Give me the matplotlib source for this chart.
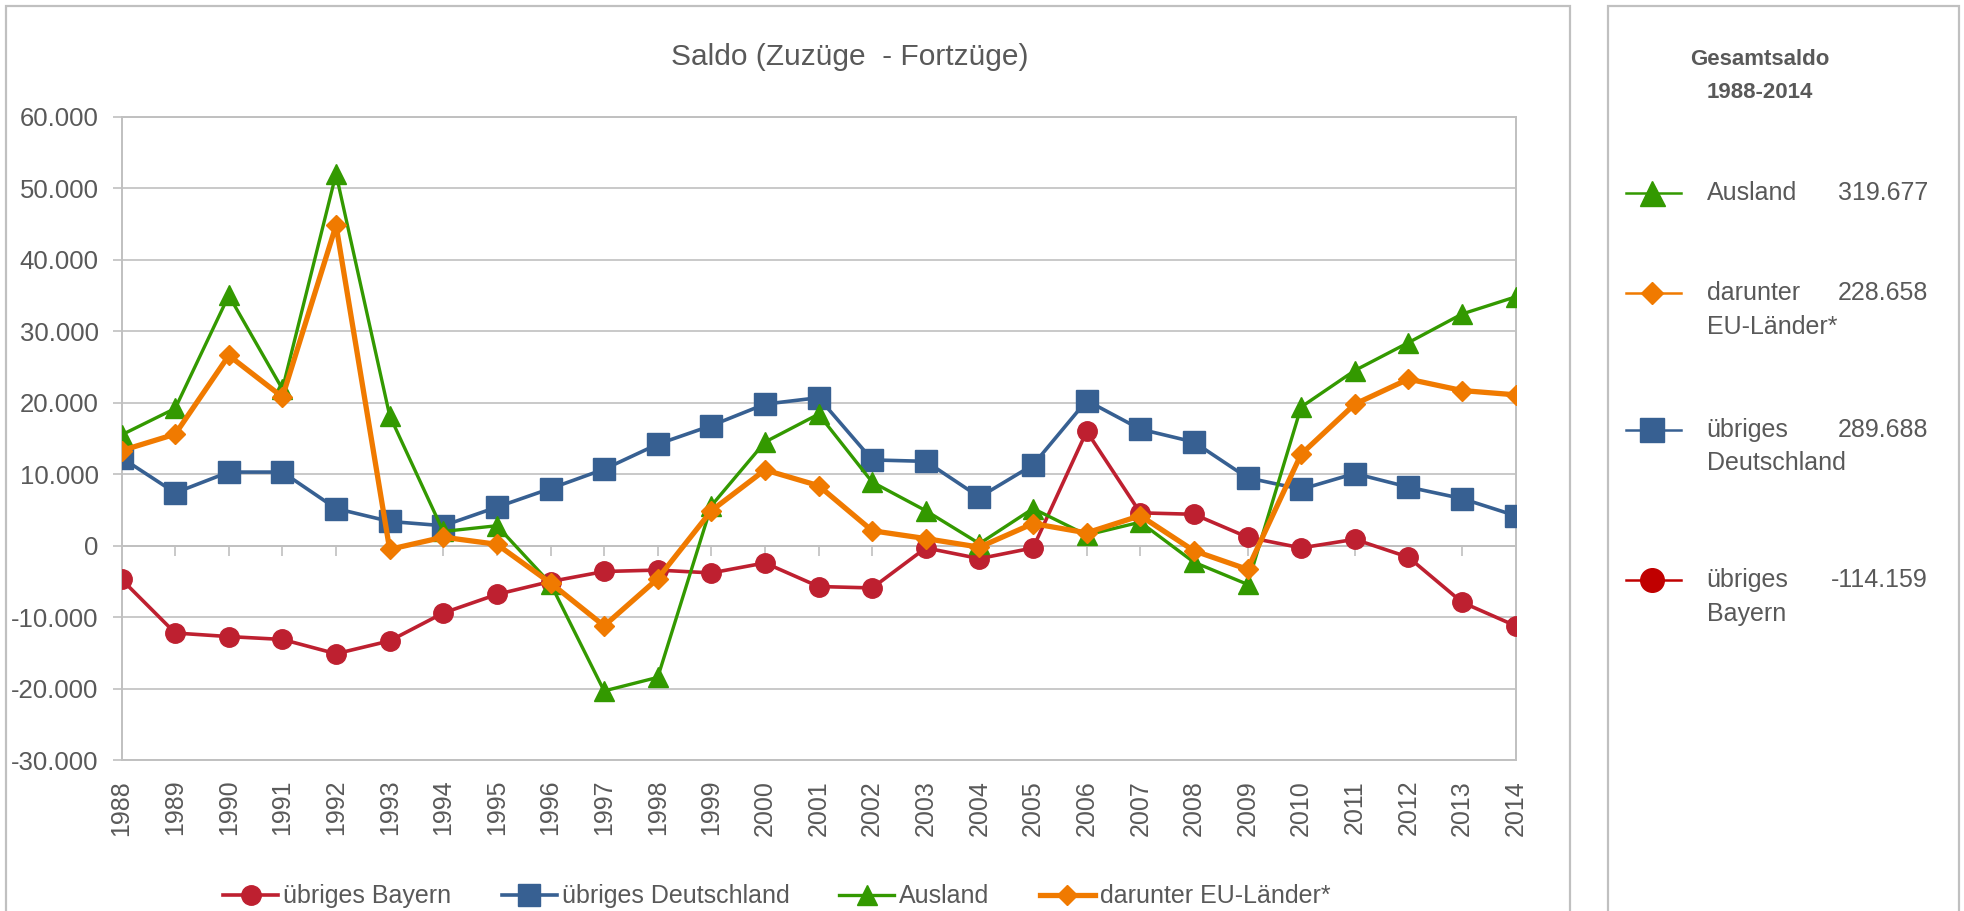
import numpy as np
import matplotlib
matplotlib.use("Agg")
import matplotlib.pyplot as plt
from matplotlib.lines import Line2D
from matplotlib.patches import Rectangle
from matplotlib.ticker import MultipleLocator, FuncFormatter

plt.rcParams["font.family"] = ["Liberation Sans", "DejaVu Sans"]

# Data
years = list(range(1988, 2015))
bayern = [-4700, -12200, -12700, -13100, -15100, -13300, -9400, -6800, -5000, -3600,
          -3400, -3800, -2400, -5700, -5900, -300, -1800, -300, 16000, 4600,
          4400, 1200, -300, 900, -1600, -7900, -11200]
deutschland = [12300, 7400, 10300, 10300, 5200, 3400, 2800, 5400, 8000, 10700,
               14200, 16800, 19800, 20700, 12000, 11800, 6800, 11300, 20300, 16300,
               14500, 9500, 7900, 10100, 8200, 6600, 4200]
ausland = [15500, 19200, 35000, 21900, 52000, 18200, 2000, 2800, -5300, -20300,
           -18400, 5600, 14500, 18400, 8900, 4900, 300, 5200, 1500, 3300,
           -2300, -5400, 19400, 24500, 28400, 32400, 34800]
eu = [13300, 15600, 26600, 20800, 44800, -500, 1200, 200, -5200, -11200,
      -4600, 4900, 10600, 8400, 2100, 1000, -200, 3100, 1800, 4200,
      -700, -3300, 12800, 19800, 23300, 21700, 21100]

# Totals for the side panel
totals_first = ["Ausland", "darunter", "übriges", "übriges"]
totals_second = ["", "EU-Länder*", "Deutschland", "Bayern"]
totals_values = ["319.677", "228.658", "289.688", "-114.159"]

c_red = "#BE2030"
c_blue = "#376092"
c_green = "#339900"
c_orange = "#F07A00"
grey_txt = "#595959"
grey_line = "#C0C0C0"

fig = plt.figure(figsize=(19.64, 9.11), dpi=100)
ax = fig.add_axes([0.0619, 0.1654, 0.7098, 0.7066])

ax.plot(years, bayern, color=c_red, lw=2.6, marker="o", ms=14, label="übriges Bayern", zorder=3)
ax.plot(years, deutschland, color=c_blue, lw=2.6, marker="s", ms=16, label="übriges Deutschland", zorder=3)
ax.plot(years, ausland, color=c_green, lw=2.4, marker="^", ms=15, label="Ausland", zorder=4)
ax.plot(years, eu, color=c_orange, lw=3.8, marker="D", ms=10.5, label="darunter EU-Länder*", zorder=5)

ax.set_xlim(years[0], years[-1])
ax.set_ylim(-30000, 60000)
ax.yaxis.set_major_locator(MultipleLocator(10000))
ax.yaxis.set_major_formatter(FuncFormatter(lambda v, p: f"{v:,.0f}".replace(",", ".")))
ax.set_xticks(years)
ax.set_xticklabels([str(y) for y in years], rotation=90)

ax.grid(axis="y", color=grey_line, lw=1.2)
ax.set_axisbelow(True)
for s in ax.spines.values():
    s.set_color(grey_line)
    s.set_linewidth(1.4)
ax.tick_params(axis="y", colors=grey_line, labelcolor=grey_txt, labelsize=18.5,
               length=6.5, width=1.2, pad=10)
ax.tick_params(axis="x", length=0, labelcolor=grey_txt, labelsize=18, pad=14)

# category axis crossing at zero with tick marks
ylo, yhi = ax.get_ylim()
sec = ax.secondary_xaxis((0 - ylo) / (yhi - ylo))
sec.set_xticks(years[1:-1])
sec.set_xticklabels([])
sec.tick_params(axis="x", direction="out", length=7, width=1.2, colors=grey_line)
sec.spines["bottom"].set_color(grey_line)
sec.spines["bottom"].set_linewidth(1.4)

fig.text(0.4328, 0.9286, "Saldo (Zuzüge  - Fortzüge)", ha="center", va="baseline",
         fontsize=21.5, color=grey_txt)

ax.legend(loc="lower center", bbox_to_anchor=(0.47, -0.265), ncol=4, frameon=False,
          fontsize=18, labelcolor=grey_txt, handlelength=2.2, columnspacing=2.0,
          handletextpad=0.2)

# panel frames
fig.add_artist(Rectangle((0.003, -0.05), 0.7965, 1.0434, transform=fig.transFigure,
                         fill=False, edgecolor=grey_line, lw=1.6))
fig.add_artist(Rectangle((0.8187, -0.05), 0.179, 1.0434, transform=fig.transFigure,
                         fill=False, edgecolor=grey_line, lw=1.6))

# side panel with totals
fig.text(0.896, 0.935, "Gesamtsaldo", ha="center", va="center", fontsize=16,
         fontweight="bold", color=grey_txt)
fig.text(0.896, 0.899, "1988-2014", ha="center", va="center", fontsize=16,
         fontweight="bold", color=grey_txt)

side_colors = [c_green, c_orange, c_blue, "#C00000"]
side_markers = ["^", "D", "s", "o"]
side_ms = [18, 11.5, 17, 17]
side_y = [0.788, 0.678, 0.5284, 0.3634]
for l1, l2, val, col, mk, ms, yy in zip(totals_first, totals_second, totals_values,
                                         side_colors, side_markers, side_ms, side_y):
    fig.add_artist(Line2D([0.828, 0.856], [yy, yy], transform=fig.transFigure,
                          color=col, lw=1.8))
    fig.add_artist(Line2D([0.841], [yy], transform=fig.transFigure, color=col,
                          marker=mk, ms=ms, lw=0))
    fig.text(0.869, yy, l1, ha="left", va="center", fontsize=18, color=grey_txt)
    if l2:
        fig.text(0.869, yy - 0.037, l2, ha="left", va="center", fontsize=18, color=grey_txt)
    fig.text(0.9817, yy, val, ha="right", va="center", fontsize=18, color=grey_txt)

fig.savefig("out.png", dpi=100)
